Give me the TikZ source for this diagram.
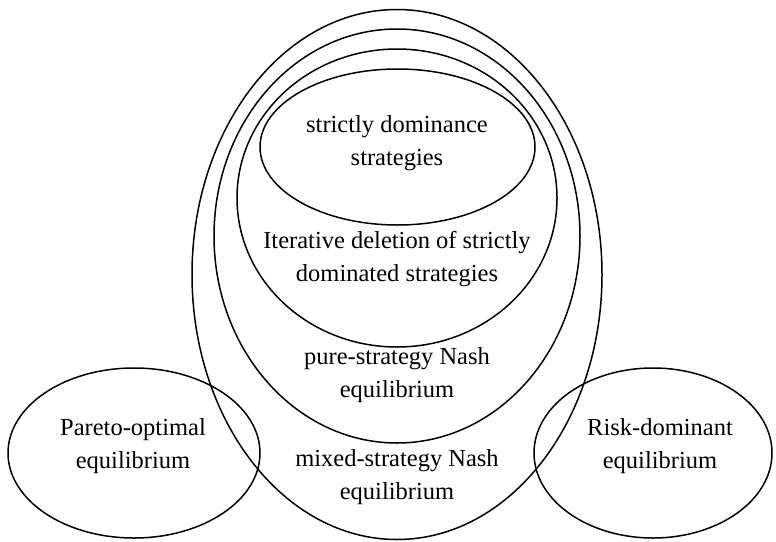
\documentclass[tikz,border=0pt]{standalone}
\usepackage{fontspec}
\setmainfont{Liberation Serif}
\begin{document}
\begin{tikzpicture}[x=1pt,y=-1pt,
  ring/.style={draw=black,line width=1.5pt},
  lbl/.style={align=center,font=\fontsize{24.5}{33}\selectfont,inner sep=0pt}]
\useasboundingbox (0,0) rectangle (776,541);
% nested ellipses
\draw[ring] (397,274.5) ellipse [x radius=205, y radius=265];
\draw[ring] (397,236) ellipse [x radius=183, y radius=207];
\draw[ring] (397,198) ellipse [x radius=160, y radius=149];
\draw[ring] (397.5,147) ellipse [x radius=137.5, y radius=78];
% side ellipses
\draw[ring] (134,453) ellipse [x radius=126, y radius=85];
\draw[ring] (653,453) ellipse [x radius=119, y radius=85];
% labels
\node[lbl] (sd) at (397,143) {strictly dominance\\strategies};
\node[lbl] (it) at (397,259) {Iterative deletion of strictly\\dominated strategies};
\node[lbl] (pn) at (397,375) {pure-strategy Nash\\equilibrium};
\node[lbl] (mn) at (397,477) {mixed-strategy Nash\\equilibrium};
\node[lbl] (po) at (133,446) {Pareto-optimal\\equilibrium};
\node[lbl] (rd) at (660,446) {Risk-dominant\\equilibrium};
\end{tikzpicture}
\end{document}
